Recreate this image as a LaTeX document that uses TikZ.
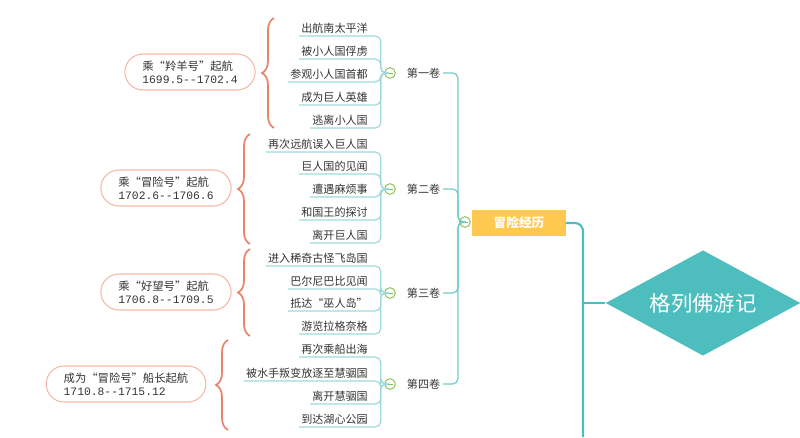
\documentclass[tikz,border=0pt]{standalone}
\usepackage{fontspec}
\setmainfont{Noto Sans CJK SC}
\setmonofont{Liberation Mono}
\usetikzlibrary{shapes.geometric,shapes.misc,decorations.pathreplacing}
\definecolor{teal}{HTML}{4DBDBE}
\definecolor{lteal}{HTML}{9ED9DA}
\definecolor{orng}{HTML}{FFC94F}
\definecolor{brc}{HTML}{E8846A}
\definecolor{ovl}{HTML}{F2B8A8}
\definecolor{grn}{HTML}{8CC152}
\begin{document}
\begin{tikzpicture}[x=0.75pt,y=-0.75pt,
  leaf/.style={anchor=south east,inner sep=1.5pt,font=\fontsize{8.3}{9}\selectfont,text=black!80},
  ln/.style={draw=lteal,line width=0.9pt,rounded corners=4pt},
  vol/.style={font=\fontsize{8.3}{9}\selectfont,text=black!80,inner sep=2pt},
  tog/.style={circle,draw=grn,fill=white,minimum size=8pt,inner sep=0pt,line width=0.7pt,path picture={\draw[grn,line width=0.7pt] ([xshift=-2pt]path picture bounding box.center)--([xshift=2pt]path picture bounding box.center);}},
  ov/.style={rounded rectangle,draw=ovl,line width=0.8pt,align=left,font=\fontsize{8.5}{10}\selectfont,text=black!80,minimum height=27pt,inner xsep=10pt},
  br/.style={draw=brc,line width=1.3pt,decorate,decoration={brace,amplitude=9pt}}
]
\useasboundingbox (0,0) rectangle (800,437);
\foreach \n/\y/\t in {a1/36/出航南太平洋,a2/59/被小人国俘虏,a3/82/参观小人国首都,a4/105/成为巨人英雄,a5/128/逃离小人国,
 b1/152/再次远航误入巨人国,b2/174/巨人国的见闻,b3/197/遭遇麻烦事,b4/220/和国王的探讨,b5/243/离开巨人国,
 c1/266/进入稀奇古怪飞岛国,c2/289/巴尔尼巴比见闻,c3/311/抵达“巫人岛”,c4/334/游览拉格奈格,
 d1/357/再次乘船出海,d2/381/被水手叛变放逐至慧骃国,d3/404/离开慧骃国,d4/427/到达湖心公园}
  \node[leaf] (\n) at (370,\y) {\t};
\node[tog] (t1) at (390,73) {};
\node[tog] (t2) at (390,189) {};
\node[tog] (t3) at (390,293) {};
\node[tog] (t4) at (390,384) {};
\foreach \g/\k/\list in {a/1/{a1,a2,a3,a4,a5},b/2/{b1,b2,b3,b4,b5},c/3/{c1,c2,c3,c4},d/4/{d1,d2,d3,d4}}
  \foreach \n in \list
    \draw[ln] (\n.south west) -- ([xshift=8pt]\n.south east) coordinate (e) -- (e |- t\k) -- (t\k);
\node[vol,anchor=west] (v1) at (404,73) {第一卷};
\node[vol,anchor=west] (v2) at (404,189) {第二卷};
\node[vol,anchor=west] (v3) at (404,293) {第三卷};
\node[vol,anchor=west] (v4) at (404,384) {第四卷};
\node[tog] (t0) at (465,222) {};
\node[fill=orng,minimum width=70pt,minimum height=20pt,text=white,font=\fontsize{9.5}{10}\selectfont\bfseries] (main) at (519,223) {冒险经历};
\coordinate (bus) at (458,222);
\foreach \k in {1,2,3,4}
  \draw[ln,draw=teal!80] (v\k.east) -- (bus |- v\k) -- (bus) -- (t0);
\node[diamond,fill=teal,shape aspect=1.85,minimum width=146pt,minimum height=79pt,inner sep=0pt,text=white,font=\fontsize{16}{18}\selectfont] (root) at (703,303) {格列佛游记};
\coordinate (rb) at (583,303);
\draw[teal,line width=1.6pt,rounded corners=6pt] (main.east) -- (rb |- main) -- (583,437);
\draw[teal,line width=1.6pt] (rb) -- (root.west);
\node[ov] (o1) at (190,72) {乘“羚羊号”起航\\\texttt{1699.5-{}-1702.4}};
\node[ov] (o2) at (166,188) {乘“冒险号”起航\\\texttt{1702.6-{}-1706.6}};
\node[ov] (o3) at (166,292) {乘“好望号”起航\\\texttt{1706.8-{}-1709.5}};
\node[ov] (o4) at (126,384) {成为“冒险号”船长起航\\\texttt{1710.8-{}-1715.12}};
\draw[br] (274,128) -- (274,18);
\draw[br] (250,244) -- (250,134);
\draw[br] (250,336) -- (250,249);
\draw[br] (228,430) -- (228,340);
\end{tikzpicture}
\end{document}
